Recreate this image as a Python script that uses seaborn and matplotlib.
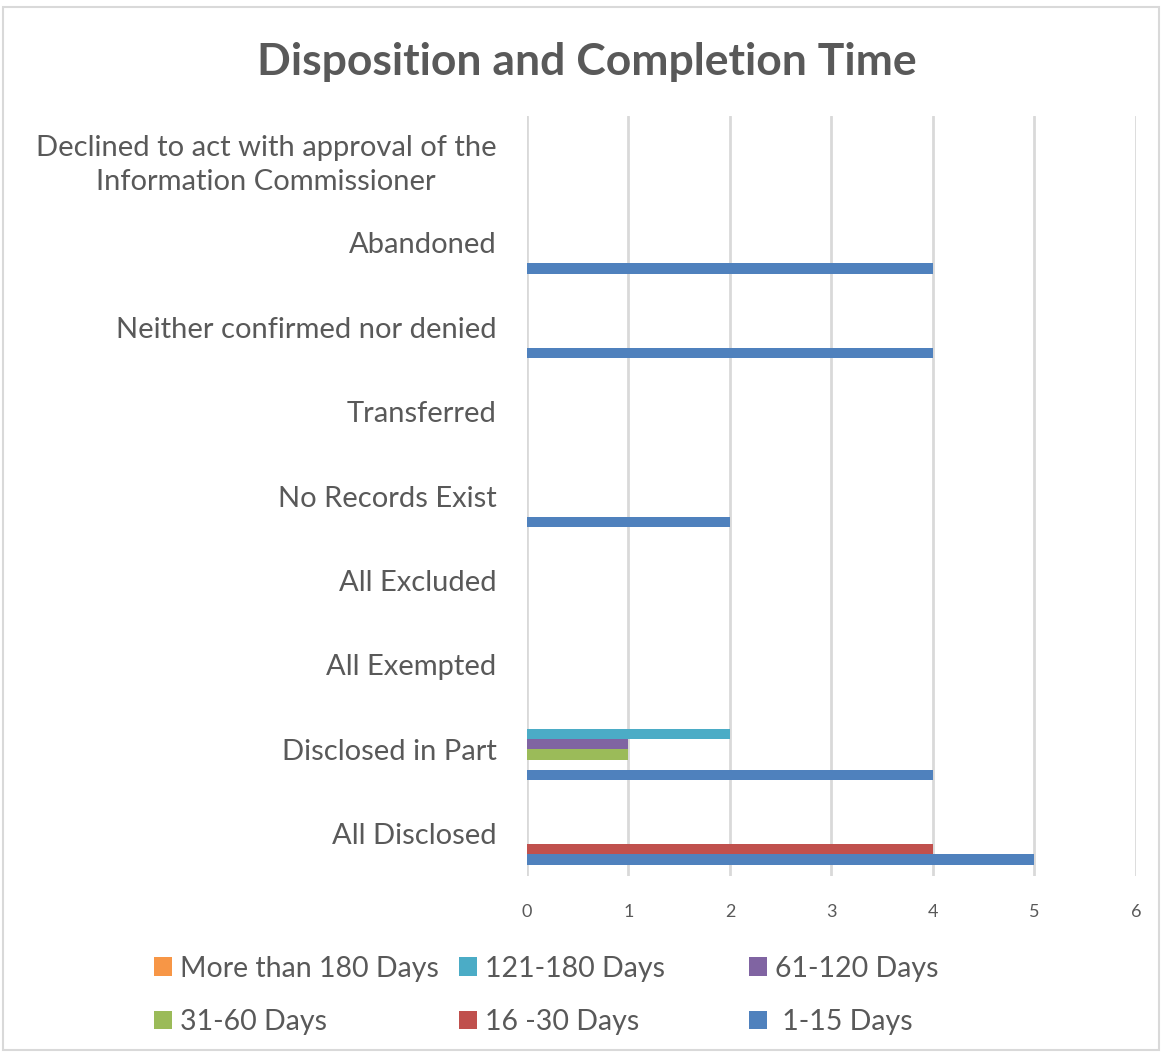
import matplotlib
matplotlib.use('Agg')
import matplotlib.pyplot as plt
from matplotlib.patches import Rectangle, Patch
import seaborn as sns
import pandas as pd

# categories, top to bottom as in the chart
categories = ['Declined to act with approval of the\nInformation Commissioner',
              'Abandoned', 'Neither confirmed nor denied', 'Transferred',
              'No Records Exist', 'All Excluded', 'All Exempted',
              'Disclosed in Part', 'All Disclosed']

# one list per series, same order as categories
days_1_15 = [0, 4, 4, 0, 2, 0, 0, 4, 5]
days_16_30 = [0, 0, 0, 0, 0, 0, 0, 0, 4]
days_31_60 = [0, 0, 0, 0, 0, 0, 0, 1, 0]
days_61_120 = [0, 0, 0, 0, 0, 0, 0, 1, 0]
days_121_180 = [0, 0, 0, 0, 0, 0, 0, 2, 0]
days_180_plus = [0, 0, 0, 0, 0, 0, 0, 0, 0]

series_names = ['More than 180 Days', '121-180 Days', '61-120 Days',
                '31-60 Days', '16 -30 Days', ' 1-15 Days']
series_vals = [days_180_plus, days_121_180, days_61_120,
               days_31_60, days_16_30, days_1_15]
colors = ['#F79646', '#4BACC6', '#8064A2', '#9BBB59', '#C0504D', '#4F81BD']

rows = []
for name, vals in zip(series_names, series_vals):
    for cat, v in zip(categories, vals):
        rows.append({'cat': cat, 'series': name, 'value': v})
df = pd.DataFrame(rows)

sns.set_theme(style='white')
plt.rcParams['font.family'] = ['Lato', 'DejaVu Sans']
text_col = '#595959'

fig = plt.figure(figsize=(11.62, 10.54), dpi=100)
ax = fig.add_axes([0.4535, 0.1689, 0.5241, 0.721])

sns.barplot(data=df, y='cat', x='value', hue='series', order=categories,
            hue_order=series_names, palette=colors, orient='h',
            width=0.73, dodge=True, saturation=1, errorbar=None,
            legend=False, linewidth=0, ax=ax)

ax.set_xlim(0, 6)
ax.set_xticks(range(0, 7))
ax.grid(True, axis='x', color='#D9D9D9', linewidth=2)
ax.set_axisbelow(True)
for s in ax.spines.values():
    s.set_visible(False)
ax.set_xlabel('')
ax.set_ylabel('')
ax.tick_params(axis='y', length=0, pad=22, labelsize=21, labelcolor=text_col)
ax.tick_params(axis='x', length=0, pad=20, labelsize=13, labelcolor=text_col)
for lab in ax.get_yticklabels():
    lab.set_multialignment('center')
    lab.set_linespacing(1.4)

fig.text(0.505, 0.941, 'Disposition and Completion Time', ha='center',
         va='center', fontsize=32, fontweight='bold', color=text_col)

# legend in three columns placed like the original
cmap = dict(zip(series_names, colors))
legend_cols = [['More than 180 Days', '31-60 Days'],
               ['121-180 Days', '16 -30 Days'],
               ['61-120 Days', ' 1-15 Days']]
xs = [0.123, 0.385, 0.635]
for x, names in zip(xs, legend_cols):
    handles = [Patch(facecolor=cmap[n], edgecolor='none') for n in names]
    fig.legend(handles, names, loc='upper left', bbox_to_anchor=(x, 0.104),
               frameon=False, fontsize=20.5, labelcolor=text_col,
               handlelength=0.63, handleheight=0.63, handletextpad=0.28,
               labelspacing=0.96, borderaxespad=0)

fig.patches.append(Rectangle((0.003, 0.004), 0.994, 0.989,
                             transform=fig.transFigure, fill=False,
                             edgecolor='#D9D9D9', linewidth=1.5))

fig.savefig('out.png', dpi=100)
